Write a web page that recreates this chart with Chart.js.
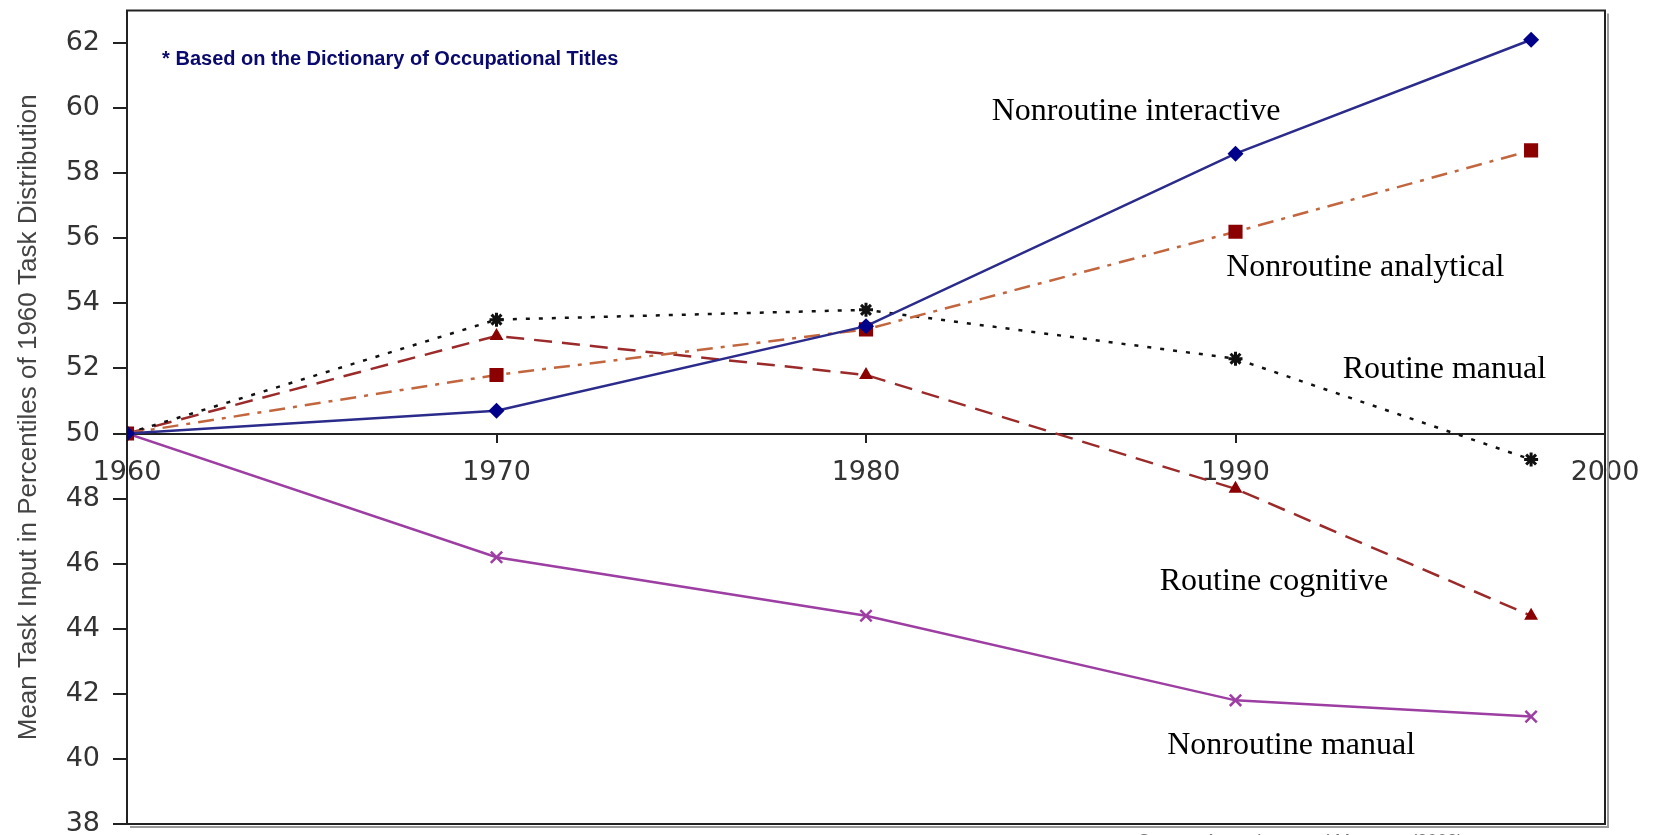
<!DOCTYPE html>
<html>
<head>
<meta charset="utf-8">
<script src="https://cdn.jsdelivr.net/npm/chart.js"></script>
<style>
  html, body { margin: 0; padding: 0; background: #fff; }
  #wrap { position: relative; width: 1657px; height: 835px; }
</style>
</head>
<body>
<div id="wrap"><canvas id="taskChart"></canvas></div>
<script>
// census years (last point is 1998)
const years = [1960, 1970, 1980, 1990, 1998];
const xTicks = [1960, 1970, 1980, 1990, 2000];

const nonroutineInteractive = [50, 50.7, 53.3, 58.6, 62.1];
const nonroutineAnalytical = [50, 51.8, 53.2, 56.2, 58.7];
const routineManual = [50, 53.5, 53.8, 52.3, 49.2];
const routineCognitive = [50, 53.0, 51.8, 48.3, 44.4];
const nonroutineManual = [50, 46.2, 44.4, 41.8, 41.3];

const seriesNames = ['Nonroutine interactive', 'Nonroutine analytical', 'Routine manual', 'Routine cognitive', 'Nonroutine manual'];

// text labels placed in data units [year, value]
const labelText = ['Nonroutine interactive', 'Nonroutine analytical', 'Routine manual', 'Routine cognitive', 'Nonroutine manual'];
const labelAt = [[1983.4, 59.9], [1989.75, 55.1], [1992.9, 51.95], [1987.95, 45.45], [1988.15, 40.4]];
const noteText = '* Based on the Dictionary of Occupational Titles';
const sourceText = 'Source: Autor, Levy and Murnane (2003)';

function toPoints(values) {
    return values.map(function(v, i) { return {x: years[i], y: v}; });
}

const boxAndLabels = {
    id: 'boxAndLabels',
    beforeDatasetsDraw: function(chart) {
        const ctx = chart.ctx;
        const a = chart.chartArea;
        ctx.save();
        // shadow on right / bottom
        ctx.strokeStyle = '#9a9a9a';
        ctx.lineWidth = 2;
        ctx.beginPath();
        ctx.moveTo(a.right + 3, a.top + 3);
        ctx.lineTo(a.right + 3, a.bottom + 3);
        ctx.lineTo(a.left + 3, a.bottom + 3);
        ctx.stroke();
        ctx.strokeStyle = '#222';
        ctx.lineWidth = 2;
        ctx.strokeRect(a.left, a.top, a.right - a.left, a.bottom - a.top);
        ctx.restore();
    },
    afterDraw: function(chart) {
        const ctx = chart.ctx;
        const xs = chart.scales.x;
        const ys = chart.scales.y;
        ctx.save();
        ctx.textBaseline = 'middle';
        ctx.textAlign = 'left';
        ctx.fillStyle = '#000';
        ctx.font = '32px "Liberation Serif", "Times New Roman", serif';
        labelText.forEach(function(t, i) {
            ctx.fillText(t, xs.getPixelForValue(labelAt[i][0]), ys.getPixelForValue(labelAt[i][1]));
        });
        ctx.fillStyle = '#0a0a6e';
        ctx.font = 'bold 20px "Liberation Sans", Arial, sans-serif';
        ctx.fillText(noteText, xs.getPixelForValue(1960.95), ys.getPixelForValue(61.5));
        ctx.fillStyle = '#777';
        ctx.font = '18px "Liberation Sans", Arial, sans-serif';
        ctx.textBaseline = 'top';
        ctx.fillText(sourceText, 1138, 833);
        ctx.restore();
    }
};

const tickFont = {family: '"DejaVu Sans", sans-serif', size: 27};

new Chart(document.getElementById('taskChart'), {
    type: 'line',
    data: {
        datasets: [
            {
                label: seriesNames[0],
                data: toPoints(nonroutineInteractive),
                borderColor: '#2b2b8c',
                backgroundColor: '#00008b',
                borderWidth: 2.5,
                pointStyle: 'rectRot',
                pointRadius: 8,
                pointBorderWidth: 0
            },
            {
                label: seriesNames[1],
                data: toPoints(nonroutineAnalytical),
                borderColor: '#c2663f',
                backgroundColor: '#8b0000',
                borderWidth: 2.5,
                borderDash: [16, 8, 4, 8],
                pointStyle: 'rect',
                pointRadius: 10,
                pointBorderWidth: 0
            },
            {
                label: seriesNames[2],
                data: toPoints(routineManual),
                borderColor: '#111',
                backgroundColor: '#111',
                borderWidth: 2.5,
                borderDash: [4, 9],
                pointStyle: 'star',
                pointRadius: 7,
                pointBorderColor: '#111',
                pointBorderWidth: 3
            },
            {
                label: seriesNames[3],
                data: toPoints(routineCognitive),
                borderColor: '#9b2a2a',
                backgroundColor: '#8b0000',
                borderWidth: 2.5,
                borderDash: [18, 10],
                pointStyle: 'triangle',
                pointRadius: 8,
                pointBorderWidth: 0
            },
            {
                label: seriesNames[4],
                data: toPoints(nonroutineManual),
                borderColor: '#9d3ea3',
                backgroundColor: '#9d3ea3',
                borderWidth: 2.5,
                pointStyle: 'crossRot',
                pointRadius: 8,
                pointBorderColor: '#9d3ea3',
                pointBorderWidth: 2.5
            }
        ]
    },
    options: {
        responsive: true,
        maintainAspectRatio: false,
        animation: false,
        layout: {padding: {left: 0, right: 52, top: 8, bottom: 11}},
        plugins: {
            legend: {display: false},
            tooltip: {enabled: false}
        },
        elements: {line: {tension: 0}},
        scales: {
            x: {
                type: 'linear',
                position: {y: 50},
                min: 1960,
                max: 2000,
                afterBuildTicks: function(scale) {
                    scale.ticks = xTicks.map(function(v) { return {value: v}; });
                },
                afterFit: function(scale) {
                    scale.paddingLeft = 0;
                    scale.paddingRight = 0;
                    scale.paddingTop = 0;
                    scale.paddingBottom = 0;
                },
                grid: {drawOnChartArea: false, tickLength: 8, color: '#222', lineWidth: 2},
                border: {color: '#222', width: 2},
                ticks: {
                    color: '#333', font: tickFont, padding: 15, maxRotation: 0,
                    callback: function(v) { return String(v); }
                }
            },
            y: {
                min: 38,
                max: 63,
                afterFit: function(scale) {
                    scale.width = 127;
                    scale.paddingTop = 0;
                    scale.paddingBottom = 0;
                },
                grid: {drawOnChartArea: false, tickLength: 14, color: '#222', lineWidth: 2},
                border: {color: '#222', width: 2},
                ticks: {stepSize: 2, includeBounds: false, color: '#333', font: tickFont, padding: 13},
                title: {
                    display: true,
                    text: 'Mean Task Input in Percentiles of 1960 Task Distribution',
                    color: '#444',
                    font: {family: '"Liberation Sans", Arial, sans-serif', size: 26},
                    padding: {top: 13, bottom: 0}
                }
            }
        }
    },
    plugins: [boxAndLabels]
});
</script>
</body>
</html>
